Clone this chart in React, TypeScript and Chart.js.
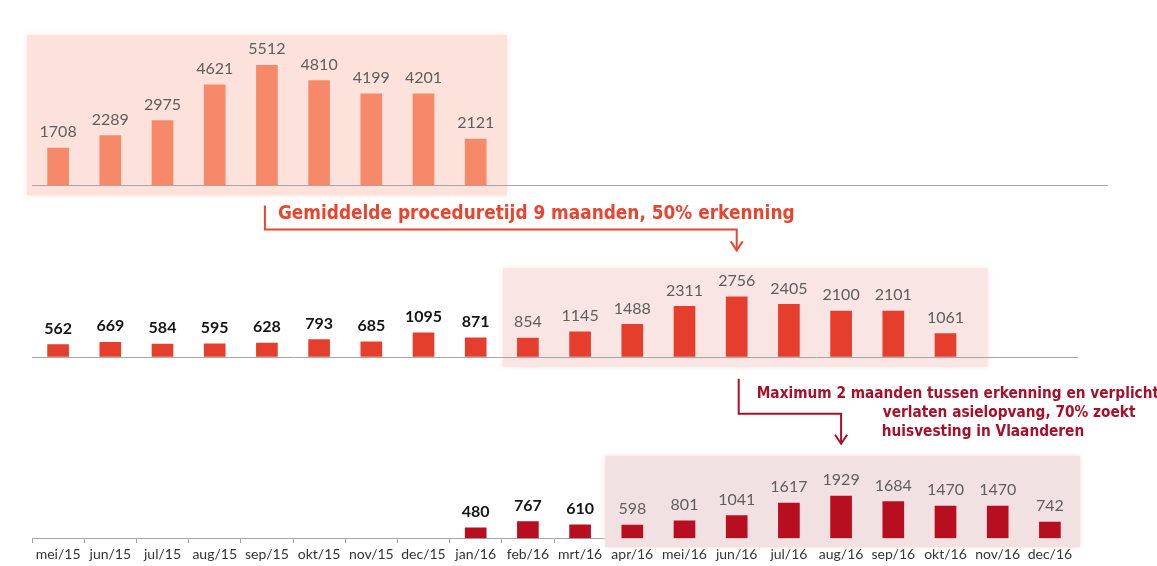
import { useEffect, useRef } from "react";
import { Chart, registerables } from "chart.js";

Chart.register(...registerables);

// ---------- data ----------
const months = [
  "mei/15", "jun/15", "jul/15", "aug/15", "sep/15", "okt/15", "nov/15", "dec/15",
  "jan/16", "feb/16", "mrt/16", "apr/16", "mei/16", "jun/16", "jul/16", "aug/16",
  "sep/16", "okt/16", "nov/16", "dec/16",
];

// Row 1: asylum applications (top)
const row1Values = [1708, 2289, 2975, 4621, 5512, 4810, 4199, 4201, 2121, null, null, null, null, null, null, null, null, null, null, null];
// Row 2: recognitions (middle)
const row2Values = [562, 669, 584, 595, 628, 793, 685, 1095, 871, 854, 1145, 1488, 2311, 2756, 2405, 2100, 2101, 1061, null, null];
// Row 3: leaving reception (bottom)
const row3Values = [null, null, null, null, null, null, null, null, 480, 767, 610, 598, 801, 1041, 1617, 1929, 1684, 1470, 1470, 742];

// shaded (highlighted) month ranges per row
const row1Highlight = ["mei/15", "jan/16"];
const row2Highlight = ["feb/16", "okt/16"];
const row3Highlight = ["apr/16", "dec/16"];

const note1Text = "Gemiddelde proceduretijd 9 maanden, 50% erkenning";
const note1From = "sep/15";
const note1To = "jun/16";
const note2Lines = [
  "Maximum 2 maanden tussen erkenning en verplicht",
  "verlaten asielopvang, 70% zoekt",
  "huisvesting in Vlaanderen",
];
const note2From = "jun/16";
const note2To = "aug/16";

// ---------- styles ----------
const rowHeights = [175, 171, 181];
const UNITS_PER_PX = 46;
const barColors = ["#F7896B", "#E63E2D", "#B70E20"];
const boxColors = ["#FCE2DA", "#F9E5E3", "#F2E1E3"];
const note1Color = "#E8452F";
const note2Color = "#A8102A";
const axisColor = "#A6A6A6";
const labelGray = "#5E5E5E";
const labelBlack = "#151515";
const highlights = [row1Highlight, row2Highlight, row3Highlight];
const NOTE_STRETCH = 1.18;

function fitFont(ctx: CanvasRenderingContext2D, text: string, width: number, family: string, weight: string) {
  ctx.font = `${weight} 100px ${family}`;
  const w = ctx.measureText(text).width;
  return (100 * width) / w;
}

function stretchedText(ctx: CanvasRenderingContext2D, text: string, x: number, y: number) {
  ctx.save();
  ctx.translate(x, y);
  ctx.scale(1, NOTE_STRETCH);
  ctx.fillText(text, 0, 0);
  ctx.restore();
}

const decoPlugin = {
  id: "deco",
  beforeDatasetsDraw(chart: any) {
    const ctx = chart.ctx as CanvasRenderingContext2D;
    const x = chart.scales.x;
    const ys = [chart.scales.y1, chart.scales.y2, chart.scales.y3];
    const cw = x.getPixelForValue(1) - x.getPixelForValue(0);
    const edge = (i: number) => x.getPixelForValue(i) - cw / 2;
    const idx = (m: string) => months.indexOf(m);
    // [left pad, right pad, top offset from axis top, bottom pad]
    const pads = [
      [-5, 5, 25, 10],
      [1, 16, 83, 10],
      [-1, 4, 99, 9],
    ];
    ctx.save();
    for (let r = 0; r < 3; r++) {
      const [a, b] = highlights[r];
      const l = edge(idx(a)) + pads[r][0];
      const rt = edge(idx(b) + 1) + pads[r][1];
      const t = ys[r].top + pads[r][2];
      const bt = ys[r].bottom + pads[r][3];
      ctx.fillStyle = boxColors[r];
      ctx.shadowColor = boxColors[r];
      ctx.shadowBlur = 6;
      ctx.fillRect(l, t, rt - l, bt - t);
    }
    ctx.restore();
    // row base lines for rows 1 and 2
    ctx.save();
    ctx.strokeStyle = axisColor;
    ctx.lineWidth = 1;
    const ca = chart.chartArea;
    const ends = [ca.right + 32, ca.right + 2];
    for (let r = 0; r < 2; r++) {
      const yy = Math.round(ys[r].bottom) + 0.5;
      ctx.beginPath();
      ctx.moveTo(ca.left, yy);
      ctx.lineTo(ends[r], yy);
      ctx.stroke();
    }
    ctx.restore();
  },
  afterDatasetsDraw(chart: any) {
    const ctx = chart.ctx as CanvasRenderingContext2D;
    ctx.save();
    ctx.textAlign = "center";
    ctx.textBaseline = "bottom";
    chart.data.datasets.forEach((ds: any, di: number) => {
      const meta = chart.getDatasetMeta(di);
      const [a, b] = highlights[di];
      const ia = months.indexOf(a);
      const ib = months.indexOf(b);
      meta.data.forEach((el: any, i: number) => {
        const v = ds.data[i];
        if (v == null) return;
        const inBox = i >= ia && i <= ib;
        ctx.fillStyle = inBox ? labelGray : labelBlack;
        ctx.font = `${inBox ? "normal" : "bold"} 16px Lato`;
        ctx.fillText(String(v), el.x, el.y - 8);
      });
    });
    ctx.restore();
  },
  afterDraw(chart: any) {
    const ctx = chart.ctx as CanvasRenderingContext2D;
    const x = chart.scales.x;
    const y1 = chart.scales.y1;
    const y2 = chart.scales.y2;
    const y3 = chart.scales.y3;
    const px = (m: string) => x.getPixelForValue(months.indexOf(m));
    const arrow = (ax: number, ay: number) => {
      ctx.beginPath();
      ctx.moveTo(ax - 6, ay - 9);
      ctx.lineTo(ax, ay);
      ctx.lineTo(ax + 6, ay - 9);
      ctx.stroke();
    };
    const fam = "'DejaVu Sans'";

    // note 1
    ctx.save();
    ctx.strokeStyle = note1Color;
    ctx.lineWidth = 2;
    ctx.lineJoin = "miter";
    const ax1 = px(note1From) - 2;
    const bx1 = px(note1To);
    const yTop1 = y1.bottom + 20;
    const yMid1 = y1.bottom + 44;
    const yEnd1 = y2.top + 65;
    ctx.beginPath();
    ctx.moveTo(ax1, yTop1);
    ctx.lineTo(ax1, yMid1);
    ctx.lineTo(bx1, yMid1);
    ctx.lineTo(bx1, yEnd1);
    ctx.stroke();
    arrow(bx1, yEnd1);
    const fs1 = fitFont(ctx, note1Text, 517, fam, "bold");
    ctx.font = `bold ${fs1}px ${fam}`;
    ctx.fillStyle = note1Color;
    ctx.textAlign = "left";
    ctx.textBaseline = "middle";
    stretchedText(ctx, note1Text, ax1 + 13, y1.bottom + 28);
    ctx.restore();

    // note 2
    ctx.save();
    ctx.strokeStyle = note2Color;
    ctx.lineWidth = 2;
    const ax2 = px(note2From) + 2;
    const bx2 = px(note2To);
    const yTop2 = y2.bottom + 22;
    const yMid2 = y2.bottom + 57;
    const yEnd2 = y3.top + 87;
    ctx.beginPath();
    ctx.moveTo(ax2, yTop2);
    ctx.lineTo(ax2, yMid2);
    ctx.lineTo(bx2, yMid2);
    ctx.lineTo(bx2, yEnd2);
    ctx.stroke();
    arrow(bx2, yEnd2);
    const fs2 = fitFont(ctx, note2Lines[1], 253, fam, "bold");
    ctx.font = `bold ${fs2}px ${fam}`;
    ctx.fillStyle = note2Color;
    ctx.textAlign = "left";
    ctx.textBaseline = "middle";
    const lefts = [ax2 + 18, ax2 + 144, ax2 + 143];
    const ysT = [y2.bottom + 37, y2.bottom + 56, y2.bottom + 75];
    note2Lines.forEach((t, i) => stretchedText(ctx, t, lefts[i], ysT[i]));
    ctx.restore();
  },
};

export default function App() {
  const ref = useRef<HTMLCanvasElement | null>(null);
  useEffect(() => {
    if (!ref.current) return;
    const mk = (data: (number | null)[], i: number) => ({
      data,
      yAxisID: `y${i + 1}`,
      backgroundColor: barColors[i],
      barThickness: 21,
      grouped: false,
      borderWidth: 0,
    });
    const yAxis = (i: number) => ({
      type: "linear",
      stack: "rows",
      stackWeight: rowHeights[i],
      min: 0,
      max: rowHeights[i] * UNITS_PER_PX,
      display: false,
    });
    const chart = new Chart(ref.current, {
      type: "bar",
      data: {
        labels: months,
        datasets: [mk(row1Values, 0), mk(row2Values, 1), mk(row3Values, 2)],
      },
      options: {
        animation: false,
        responsive: true,
        maintainAspectRatio: false,
        layout: { padding: { left: 32, right: 81, top: 10, bottom: 0 } },
        plugins: { legend: { display: false }, tooltip: { enabled: false } },
        scales: {
          x: {
            type: "category",
            offset: true,
            grid: {
              display: true,
              offset: true,
              drawOnChartArea: false,
              drawTicks: true,
              tickLength: 5,
              color: axisColor,
            },
            border: { display: true, color: axisColor },
            ticks: {
              color: "#333333",
              font: { family: "Lato", size: 14 },
              padding: 3,
              maxRotation: 0,
              autoSkip: false,
            },
          },
          // stacked axes are placed bottom-up, so the bottom row comes first
          y3: yAxis(2),
          y2: yAxis(1),
          y1: yAxis(0),
        },
      },
      plugins: [decoPlugin],
    } as any);
    return () => chart.destroy();
  }, []);
  return (
    <div style={{ position: "fixed", left: 0, top: 0, width: 1157, height: 566, background: "#fff" }}>
      <canvas ref={ref} />
    </div>
  );
}
